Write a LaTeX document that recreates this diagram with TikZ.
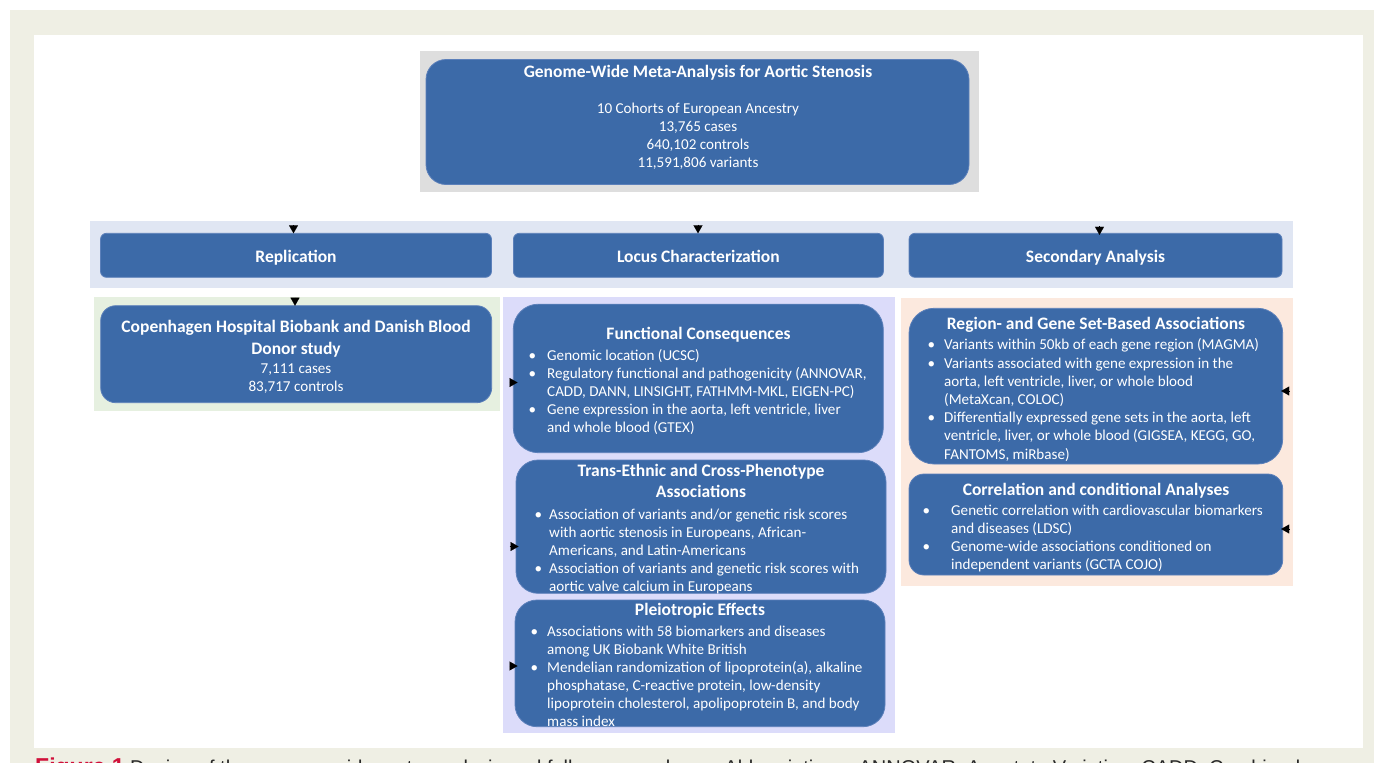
\documentclass[tikz,border=0pt]{standalone}
\usepackage{fontspec}
\setmainfont{Carlito}
\newfontfamily\capfont{Liberation Sans}
\usetikzlibrary{arrows.meta}
\definecolor{framebg}{RGB}{239,239,228}
\definecolor{graybg}{RGB}{222,222,222}
\definecolor{bandbg}{RGB}{224,230,243}
\definecolor{greenbg}{RGB}{230,240,224}
\definecolor{lavbg}{RGB}{220,220,250}
\definecolor{peachbg}{RGB}{252,233,222}
\definecolor{boxblue}{RGB}{60,106,168}
\definecolor{boxedge}{RGB}{92,128,186}
\definecolor{figred}{RGB}{208,16,58}
\definecolor{capgray}{RGB}{40,40,40}
\newcommand{\mybody}{\fontsize{15.1}{18}\selectfont}
\newcommand{\mybodyw}{\fontsize{15.1}{18.2}\selectfont}
\newcommand{\mytitle}{\fontsize{17.5}{18}\selectfont\bfseries}
\tikzset{
  panel/.style={inner sep=0, outer sep=0, anchor=north west, draw=none},
  box/.style={draw=boxedge, fill=boxblue, line width=0.8pt, inner sep=0, outer sep=0, anchor=north west, text=white},
  bandbox/.style={box, rounded corners=6pt, minimum height=44pt, font=\mytitle, text height=15.6pt, text depth=1pt},
  tip/.style={-{Triangle[length=8pt,width=9pt]}, line width=0.1pt, black},
  ttl/.style={text=white, inner sep=0, font=\mytitle},
  txt/.style={text=white, inner sep=0, anchor=north west, font=\mybody},
  ctxt/.style={text=white, inner sep=0, anchor=north, font=\mybody},
}
\begin{document}
\begin{tikzpicture}[x=1pt,y=-1pt]
\useasboundingbox (0,0) rectangle (1374,763);
\clip (0,0) rectangle (1374,763);
\fill[white] (0,0) rectangle (1374,763);
\fill[framebg] (10,10) rectangle (1374,763);
\fill[white] (34,35) rectangle (1363,748);

% panels
\node[panel, fill=graybg, minimum width=559pt, minimum height=141pt] (gwaspanel) at (420,51) {};
\node[panel, fill=bandbg, minimum width=1203pt, minimum height=67pt] (band) at (90,221) {};
\node[panel, fill=greenbg, minimum width=406pt, minimum height=114pt] (greenpanel) at (94,297) {};
\node[panel, fill=lavbg, minimum width=392pt, minimum height=436pt] (lavpanel) at (503,297) {};
\node[panel, fill=peachbg, minimum width=392pt, minimum height=288pt] (peachpanel) at (901,298) {};

% top box
\node[box, rounded corners=20pt, minimum width=543pt, minimum height=125pt] (gwas) at (426,59.5) {};
\node[ctxt] (gwastext) at (698,64.5) {\begin{tabular}{@{}c@{}}{\mytitle Genome-Wide Meta-Analysis for Aortic Stenosis}\\ \\ 10 Cohorts of European Ancestry\\ 13,765 cases\\ 640,102 controls\\ 11,591,806 variants\end{tabular}};

% band boxes
\node[bandbox, minimum width=391pt] (repl) at (100.5,233.3) {Replication};
\node[bandbox, minimum width=370pt] (locus) at (513.4,233.3) {Locus Characterization};
\node[bandbox, minimum width=373pt] (sec) at (909,233.3) {Secondary Analysis};

% Copenhagen
\node[box, rounded corners=15pt, minimum width=391pt, minimum height=97pt] (cph) at (100.7,305.7) {};
\node[ctxt] (cphtext) at (296,319.9) {\begin{tabular}{@{}c@{}}{\mytitle Copenhagen Hospital Biobank and Danish Blood}\\[4pt] {\mytitle Donor study}\\[1pt] 7,111 cases\\ 83,717 controls\end{tabular}};

% Functional
\node[box, rounded corners=25pt, minimum width=370pt, minimum height=148.5pt] (func) at (513.3,304.2) {};
\node[ttl, anchor=base] (functtl) at (698.5,339.5) {Functional Consequences};
\node[txt] (funclist) at (528.5,347.9) {\begin{tabular}{@{}p{18.5pt}@{}l@{}}
•&Genomic location (UCSC)\\
•&Regulatory functional and pathogenicity (ANNOVAR,\\
&CADD, DANN, LINSIGHT, FATHMM-MKL, EIGEN-PC)\\
•&Gene expression in the aorta, left ventricle, liver\\
&and whole blood (GTEX)\end{tabular}};

% Trans-Ethnic
\node[box, rounded corners=22pt, minimum width=370pt, minimum height=133.3pt] (trans) at (516,460) {};
\node[ctxt] (transttl) at (701,463.9) {\begin{tabular}{@{}c@{}}{\mytitle Trans-Ethnic and Cross-Phenotype}\\[3pt]{\mytitle Associations}\end{tabular}};
\node[txt] (translist) at (534.5,506.9) {\begin{tabular}{@{}p{14.5pt}@{}l@{}}
•&Association of variants and/or genetic risk scores\\
&with aortic stenosis in Europeans, African-\\
&Americans, and Latin-Americans\\
•&Association of variants and genetic risk scores with\\
&aortic valve calcium in Europeans\end{tabular}};

% Pleiotropic
\node[box, rounded corners=22pt, minimum width=370pt, minimum height=126.7pt] (pleio) at (515,600) {};
\node[ttl, anchor=base] (pleiottl) at (700,615.5) {Pleiotropic Effects};
\node[txt] (pleiolist) at (530.5,623.9) {\begin{tabular}{@{}p{16.5pt}@{}l@{}}
•&Associations with 58 biomarkers and diseases\\
&among UK Biobank White British\\
•&Mendelian randomization of lipoprotein(a), alkaline\\
&phosphatase, C-reactive protein, low-density\\
&lipoprotein cholesterol, apolipoprotein B, and body\\
&mass index\end{tabular}};

% Region
\node[box, rounded corners=25pt, minimum width=373.7pt, minimum height=155.7pt] (reg) at (909,308.3) {};
\node[ttl, anchor=base] (regttl) at (1096,329.5) {Region- and Gene Set-Based Associations};
\node[txt, font=\mybodyw] (reglist) at (927.5,336.9) {\begin{tabular}{@{}p{16.5pt}@{}l@{}}
•&Variants within 50kb of each gene region (MAGMA)\\
•&Variants associated with gene expression in the\\
&aorta, left ventricle, liver, or whole blood\\
&(MetaXcan, COLOC)\\
•&Differentially expressed gene sets in the aorta, left\\
&ventricle, liver, or whole blood (GIGSEA, KEGG, GO,\\
&FANTOMS, miRbase)\end{tabular}};

% Correlation
\node[box, rounded corners=15pt, minimum width=373.7pt, minimum height=101pt] (corr) at (909,474) {};
\node[ttl, anchor=base] (corrttl) at (1096,495.5) {Correlation and conditional Analyses};
\node[txt] (corrlist) at (922.5,502.9) {\begin{tabular}{@{}p{28.5pt}@{}l@{}}
•&Genetic correlation with cardiovascular biomarkers\\
&and diseases (LDSC)\\
•&Genome-wide associations conditioned on\\
&independent variants (GCTA COJO)\end{tabular}};

% arrowheads
\coordinate (a1) at (293.5,225);
\draw[tip] (a1) -- (a1 |- repl.north);
\coordinate (a2) at (698,224.5);
\draw[tip] (a2) -- (a2 |- locus.north);
\coordinate (a3) at (1099.5,226);
\draw[tip] (a3) -- ([yshift=-1.5pt]a3 |- sec.north);
\coordinate (a4) at (295,297.7);
\draw[tip] (a4) -- (a4 |- cph.north);
\coordinate (a5) at (509.5,382.5);
\draw[tip] (a5) -- ([xshift=4.2pt]a5 -| func.west);
\coordinate (a6) at (509.5,546.5);
\draw[tip] (a6) -- ([xshift=2.5pt]a6 -| trans.west);
\coordinate (a7) at (509.5,666);
\draw[tip] (a7) -- ([xshift=2.5pt]a7 -| pleio.west);
\coordinate (a8) at (1289.5,391);
\draw[tip] (a8) -- ([xshift=-1.5pt]a8 -| reg.east);
\coordinate (a9) at (1289.5,529);
\draw[tip] (a9) -- ([xshift=-1.5pt]a9 -| corr.east);

% caption (cut off by page edge, as in the source)
\node[anchor=base west, inner sep=0, text=capgray, font=\capfont\fontsize{20}{24}\selectfont] (caption) at (35,774) {\textcolor{figred}{\fontsize{23}{24}\selectfont\bfseries Figure 1} Design of the genome-wide meta-analysis and follow-up analyses. Abbreviations: ANNOVAR, Annotate Variation; CADD, Combined};
\end{tikzpicture}
\end{document}
